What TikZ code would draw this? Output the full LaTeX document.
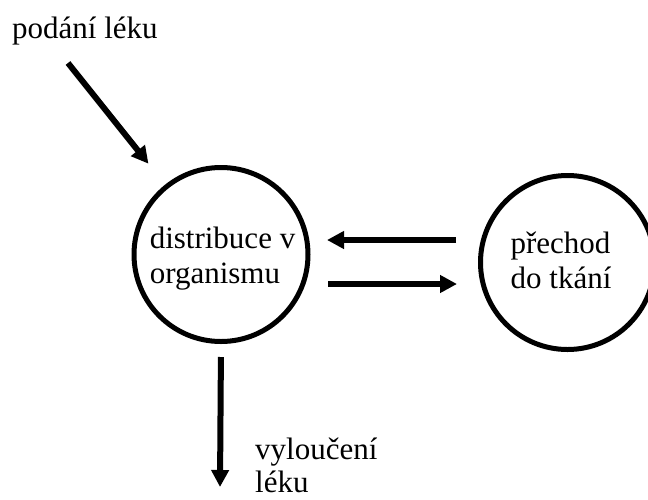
\documentclass[tikz,border=0pt]{standalone}
\usepackage{fontspec}
\setmainfont{Liberation Serif}
\usetikzlibrary{arrows.meta}
\tikzset{
  lbl/.style={font=\fontsize{31}{35}\selectfont, inner sep=0pt, align=left},
  pool/.style={circle, draw, line width=5pt, minimum size=174pt, inner sep=0pt},
  flow/.style={line width=6pt, -{Triangle[length=17pt,width=17pt]}}
}
\begin{document}
\begin{tikzpicture}[x=1pt,y=-1pt]
  \useasboundingbox (0,0) rectangle (648,499);

  % the two compartments
  \node[pool] (dist)  at (221,254.5) {};
  \node[pool] (trans) at (567.5,262.5) {};
  \node[lbl] (distText)  at (222.5,258.5) {distribuce v\\organismu};
  \node[lbl] (transText) at (561,260.5) {přechod\\do tkání};

  % inputs and outputs
  \node[lbl, anchor=base west] (dose) at (12,38) {podání léku};
  \node[lbl, anchor=north west, font=\fontsize{31}{33}\selectfont] (elim) at (255,438) {vyloučení\\léku};

  \coordinate (doseStart) at (68,63);
  \coordinate (elimEnd) at (220,487);
  \coordinate (upY) at (0,240);
  \coordinate (loY) at (0,284);

  % arrows
  \draw[flow, shorten >=26.7pt] (doseStart) -- (dist);
  \draw[flow, shorten <=13pt] (dist.south) -- (elimEnd);
  \draw[flow, shorten <=22pt, shorten >=16.5pt] (trans.west |- upY) -- (dist.east |- upY);
  \draw[flow, shorten <=17.5pt, shorten >=21pt] (dist.east |- loY) -- (trans.west |- loY);
\end{tikzpicture}
\end{document}
